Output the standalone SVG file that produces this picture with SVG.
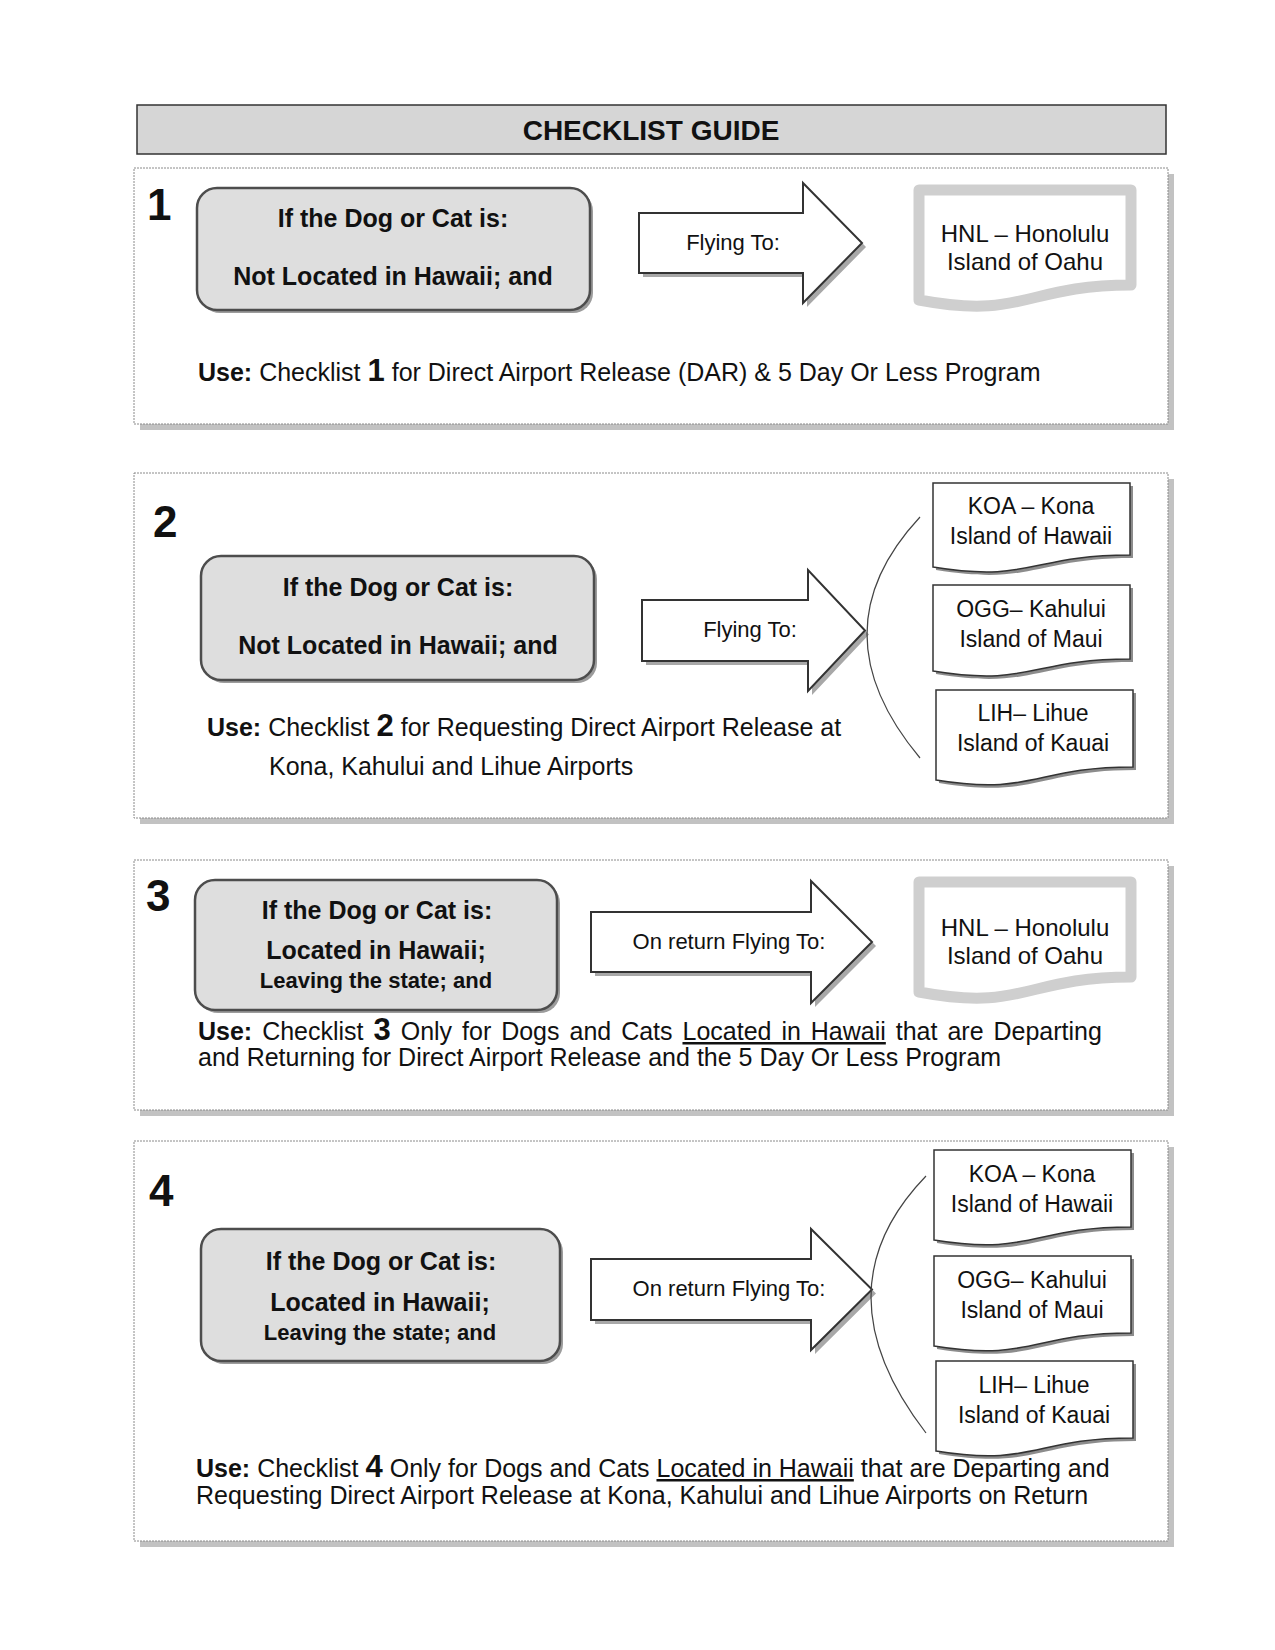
<svg xmlns="http://www.w3.org/2000/svg" width="1275" height="1650" viewBox="0 0 1275 1650">
<style>
text{font-family:"Liberation Sans",Arial,sans-serif;fill:#111}
.panel-shadow{fill:#c2c2c2}
.panel{fill:#fff;stroke:#8a8a8a;stroke-width:1;stroke-dasharray:2 1}
.title-box{fill:#d6d6d6;stroke:#333;stroke-width:1.5}
.title{font-size:28px;font-weight:bold;text-anchor:middle}
.cond-shadow{fill:#9c9c9c}
.cond{fill:#dedede;stroke:#4d4d4d;stroke-width:2.5}
.arrow-shadow{fill:#a8a8a8}
.arrow{fill:#fff;stroke:#333;stroke-width:2;stroke-linejoin:miter}
.doc-shadow{fill:#8c8c8c}
.doc{fill:#fff;stroke:#333;stroke-width:1.5}
.glow{fill:#fff;stroke:#cfcfcf;stroke-width:11;stroke-linejoin:round}
.bracket{fill:none;stroke:#444;stroke-width:1.2}
.num{font-size:44px;font-weight:bold}
.ct{font-size:25px;font-weight:bold;text-anchor:middle}
.cs{font-size:22px;font-weight:bold;text-anchor:middle}
.at{font-size:22px;text-anchor:middle}
.dt{font-size:23px;text-anchor:middle}
.ht{font-size:24px;text-anchor:middle}
.use{font-size:25px}
.b{font-weight:bold}
.big{font-size:31px;font-weight:bold}
</style>

<g id="title">
<rect class="title-box" x="137" y="105" width="1029" height="49"/>
<text class="title" x="651" y="140">CHECKLIST GUIDE</text>
</g>

<!-- Panels -->
<g id="panel1">
<rect class="panel-shadow" x="140" y="174" width="1034" height="256"/>
<rect class="panel" x="134" y="168" width="1034" height="256"/>
<text class="num" x="147" y="220">1</text>
</g>
<g id="panel2">
<rect class="panel-shadow" x="140" y="479" width="1034" height="345"/>
<rect class="panel" x="134" y="473" width="1034" height="345"/>
<text class="num" x="153" y="537">2</text>
</g>
<g id="panel3">
<rect class="panel-shadow" x="140" y="866" width="1034" height="250"/>
<rect class="panel" x="134" y="860" width="1034" height="250"/>
<text class="num" x="146" y="911">3</text>
</g>
<g id="panel4">
<rect class="panel-shadow" x="140" y="1147" width="1034" height="400"/>
<rect class="panel" x="134" y="1141" width="1034" height="400"/>
<text class="num" x="149" y="1206">4</text>
</g>

<!-- Condition boxes -->
<g id="cond1">
<rect class="cond-shadow" x="200" y="191" width="393" height="122" rx="20"/>
<rect class="cond" x="197" y="188" width="393" height="122" rx="20"/>
<text class="ct" x="393" y="227">If the Dog or Cat is:</text>
<text class="ct" x="393" y="285">Not Located in Hawaii; and</text>
</g>
<g id="cond2">
<rect class="cond-shadow" x="204" y="559" width="393" height="124" rx="20"/>
<rect class="cond" x="201" y="556" width="393" height="124" rx="20"/>
<text class="ct" x="398" y="596">If the Dog or Cat is:</text>
<text class="ct" x="398" y="654">Not Located in Hawaii; and</text>
</g>
<g id="cond3">
<rect class="cond-shadow" x="198" y="883" width="362" height="130" rx="20"/>
<rect class="cond" x="195" y="880" width="362" height="130" rx="20"/>
<text class="ct" x="377" y="919">If the Dog or Cat is:</text>
<text class="ct" x="376" y="959">Located in Hawaii;</text>
<text class="cs" x="376" y="988">Leaving the state; and</text>
</g>
<g id="cond4">
<rect class="cond-shadow" x="204" y="1232" width="359" height="132" rx="20"/>
<rect class="cond" x="201" y="1229" width="359" height="132" rx="20"/>
<text class="ct" x="381" y="1270">If the Dog or Cat is:</text>
<text class="ct" x="380" y="1311">Located in Hawaii;</text>
<text class="cs" x="380" y="1340">Leaving the state; and</text>
</g>

<!-- Block arrows -->
<g id="arrow1">
<polygon class="arrow-shadow" points="643,217 807,217 807,187 866,247 807,307 807,277 643,277"/>
<polygon class="arrow" points="639,213 803,213 803,183 862,243 803,303 803,273 639,273"/>
<text class="at" x="733" y="250">Flying To:</text>
</g>
<g id="arrow2">
<polygon class="arrow-shadow" points="646,604 812,604 812,574 869,634.5 812,695 812,665 646,665"/>
<polygon class="arrow" points="642,600 808,600 808,570 865,630.5 808,691 808,661 642,661"/>
<text class="at" x="750" y="637">Flying To:</text>
</g>
<g id="arrow3">
<polygon class="arrow-shadow" points="595,916 815,916 815,885 876,946 815,1007 815,976 595,976"/>
<polygon class="arrow" points="591,912 811,912 811,881 872,942 811,1003 811,972 591,972"/>
<text class="at" x="729" y="949">On return Flying To:</text>
</g>
<g id="arrow4">
<polygon class="arrow-shadow" points="595,1263 815,1263 815,1233 876,1293.5 815,1354 815,1324 595,1324"/>
<polygon class="arrow" points="591,1259 811,1259 811,1229 872,1289.5 811,1350 811,1320 591,1320"/>
<text class="at" x="729" y="1296">On return Flying To:</text>
</g>

<!-- Destinations -->
<g id="hnl1">
<path class="glow" d="M919,190 H1131 V285 C1025,285 1025,320 919,300 Z"/>
<text class="ht" x="1025" y="242">HNL – Honolulu</text>
<text class="ht" x="1025" y="270">Island of Oahu</text>
</g>
<g id="hnl3">
<path class="glow" d="M919,882 H1131 V977 C1025,977 1025,1012 919,992 Z"/>
<text class="ht" x="1025" y="936">HNL – Honolulu</text>
<text class="ht" x="1025" y="964">Island of Oahu</text>
</g>

<g id="koa2">
<path class="doc-shadow" d="M936,486 H1133 V558 C1034,558 1034,586 936,570 Z"/>
<path class="doc" d="M933,483 H1130 V555 C1031,555 1031,583 933,567 Z"/>
<text class="dt" x="1031" y="514">KOA – Kona</text>
<text class="dt" x="1031" y="544">Island of Hawaii</text>
</g>
<g id="ogg2">
<path class="doc-shadow" d="M936,588 H1133 V662 C1034,662 1034,690 936,674 Z"/>
<path class="doc" d="M933,585 H1130 V659 C1031,659 1031,687 933,671 Z"/>
<text class="dt" x="1031" y="617">OGG– Kahului</text>
<text class="dt" x="1031" y="647">Island of Maui</text>
</g>
<g id="lih2">
<path class="doc-shadow" d="M939,693 H1136 V770 C1037,770 1037,799 939,783 Z"/>
<path class="doc" d="M936,690 H1133 V767 C1034,767 1034,796 936,780 Z"/>
<text class="dt" x="1033" y="721">LIH– Lihue</text>
<text class="dt" x="1033" y="751">Island of Kauai</text>
</g>

<g id="koa4">
<path class="doc-shadow" d="M937,1153 H1134 V1230 C1035,1230 1035,1259 937,1243 Z"/>
<path class="doc" d="M934,1150 H1131 V1227 C1032,1227 1032,1256 934,1240 Z"/>
<text class="dt" x="1032" y="1182">KOA – Kona</text>
<text class="dt" x="1032" y="1212">Island of Hawaii</text>
</g>
<g id="ogg4">
<path class="doc-shadow" d="M937,1259 H1134 V1336 C1035,1336 1035,1365 937,1349 Z"/>
<path class="doc" d="M934,1256 H1131 V1333 C1032,1333 1032,1362 934,1346 Z"/>
<text class="dt" x="1032" y="1288">OGG– Kahului</text>
<text class="dt" x="1032" y="1318">Island of Maui</text>
</g>
<g id="lih4">
<path class="doc-shadow" d="M939,1364 H1136 V1441 C1037,1441 1037,1470 939,1454 Z"/>
<path class="doc" d="M936,1361 H1133 V1438 C1034,1438 1034,1467 936,1451 Z"/>
<text class="dt" x="1034" y="1393">LIH– Lihue</text>
<text class="dt" x="1034" y="1423">Island of Kauai</text>
</g>

<!-- Connectors (brackets) -->
<g id="connectors">
<path class="bracket" d="M920,517 Q814,631 920,758"/>
<path class="bracket" d="M926,1176 Q816,1290 926,1433"/>
</g>

<!-- Use notes -->
<g id="use1">
<text class="use" x="198" y="381"><tspan class="b">Use:</tspan> Checklist <tspan class="big">1</tspan> for Direct Airport Release (DAR) &amp; 5 Day Or Less Program</text>
</g>
<g id="use2">
<text class="use" x="207" y="736"><tspan class="b">Use:</tspan> Checklist <tspan class="big">2</tspan> for Requesting Direct Airport Release at</text>
<text class="use" x="269" y="775">Kona, Kahului and Lihue Airports</text>
</g>
<g id="use3">
<text class="use" x="198" y="1040" word-spacing="3"><tspan class="b">Use:</tspan> Checklist <tspan class="big">3</tspan> Only for Dogs and Cats <tspan text-decoration="underline">Located in Hawaii</tspan> that are Departing</text>
<text class="use" x="198" y="1066">and Returning for Direct Airport Release and the 5 Day Or Less Program</text>
</g>
<g id="use4">
<text class="use" x="196" y="1477"><tspan class="b">Use:</tspan> Checklist <tspan class="big">4</tspan> Only for Dogs and Cats <tspan text-decoration="underline">Located in Hawaii</tspan> that are Departing and</text>
<text class="use" x="196" y="1504">Requesting Direct Airport Release at Kona, Kahului and Lihue Airports on Return</text>
</g>
</svg>
